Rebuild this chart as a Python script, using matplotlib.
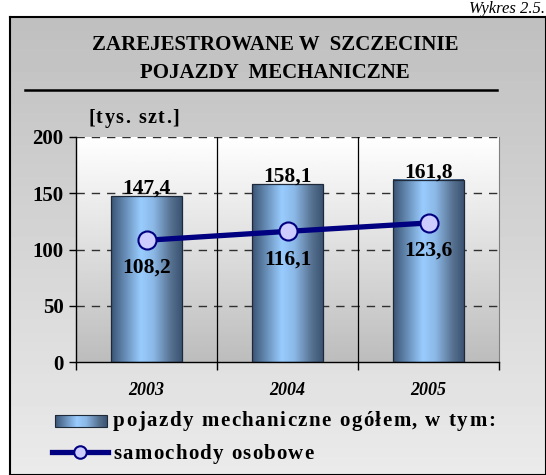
import numpy as np
import matplotlib
matplotlib.use("Agg")
import matplotlib.pyplot as plt
from matplotlib.colors import LinearSegmentedColormap
from matplotlib.patches import Rectangle
from matplotlib.lines import Line2D

years = ['2003', '2004', '2005']
vehicles = [147.4, 158.1, 161.8]
cars = [108.2, 116.1, 123.6]
vehicle_labels = ['147,4', '158,1', '161,8']
car_labels = ['108,2', '116,1', '123,6']
yticks = [0, 50, 100, 150, 200]

plt.rcParams['font.family'] = ['Liberation Serif', 'DejaVu Serif']
plt.rcParams['font.weight'] = 'bold'

W, H = 546, 475
fig = plt.figure(figsize=(W / 100, H / 100), dpi=100)
fig.patch.set_facecolor('white')
renderer = fig.canvas.get_renderer()


def text_width(s, size, **kw):
    t = fig.text(0, 0, s, fontsize=size, **kw)
    w = t.get_window_extent(renderer).width
    t.remove()
    return w


def spaced_text(xp, yp, s, size, gap, ha='left', **kw):
    # letter-spaced text, positions in pixels from the top-left corner
    ref = text_width('I', size, **kw)
    total = text_width(s, size, **kw) + gap * (len(s) - 1)
    start = xp - total / 2 if ha == 'center' else xp
    for i, ch in enumerate(s):
        if ch == ' ':
            continue
        off = text_width(s[:i] + 'I', size, **kw) - ref if i else 0
        fig.text((start + off + i * gap) / W, 1 - yp / H, ch, fontsize=size,
                 ha='left', va='center', **kw)


# outer frame with grey gradient
bg = fig.add_axes([10 / W, 0, 1 - 10 / W, 1 - 17 / H])
bg.imshow(np.linspace(0.75, 0.92, 100).reshape(-1, 1), cmap='gray', vmin=0, vmax=1,
          aspect='auto', extent=[0, 1, 0, 1])
bg.set_xticks([])
bg.set_yticks([])
for s in bg.spines.values():
    s.set_linewidth(1.5)
    s.set_color('black')

fig.text(545 / W, 1 - 13 / H, 'Wykres 2.5.', fontsize=12, style='italic', weight='normal',
         va='baseline', ha='right')

fig.text(275 / W, 1 - 45 / H, 'ZAREJESTROWANE W  SZCZECINIE', fontsize=15,
         ha='center', va='center')
fig.text(275 / W, 1 - 73 / H, 'POJAZDY  MECHANICZNE', fontsize=15,
         ha='center', va='center')
fig.add_artist(Line2D([25 / W, 497 / W], [1 - 90 / H, 1 - 90 / H], color='black', lw=1.8))
spaced_text(88, 118, '[tys. szt.]', 14.5, 1.4)

ax = fig.add_axes([76 / W, 1 - 362 / H, 423 / W, 225 / H])
ax.set_xlim(-0.5, 2.5)
ax.set_ylim(0, 200)
ax.patch.set_alpha(0)

# plot area gradient
ax.imshow(np.linspace(0.74, 1.0, 100).reshape(-1, 1), cmap='gray', vmin=0, vmax=1,
          aspect='auto', extent=[-0.5, 2.5, 0, 200], origin='lower', zorder=0)

for yv in yticks[1:]:
    ax.axhline(yv, color='#303030', lw=1, ls=(0, (6, 5)), zorder=1)
for xv in [0.5, 1.5]:
    ax.axvline(xv, color='black', lw=0.9, zorder=1)

x = np.arange(len(years))
bar_cmap = LinearSegmentedColormap.from_list(
    'barg', [(0, '#3b5474'), (0.15, '#5c7fa6'), (0.42, '#99ccff'),
             (0.6, '#8bb8e6'), (0.85, '#56708f'), (1, '#3b5474')])
grad = np.linspace(0, 1, 200).reshape(1, -1)
bars = ax.bar(x, vehicles, width=0.5, facecolor='none', edgecolor='#1e2a3a', lw=0.9, zorder=3)
for b in bars:
    x0, y0 = b.get_x(), b.get_y()
    ax.imshow(grad, cmap=bar_cmap, aspect='auto',
              extent=[x0, x0 + b.get_width(), y0, y0 + b.get_height()], zorder=2)

ax.set_xlim(-0.5, 2.5)
ax.set_ylim(0, 200)

for xi, v, lab in zip(x, vehicles, vehicle_labels):
    ax.annotate(lab, (xi, v), xytext=(0, -2), textcoords='offset points',
                ha='center', va='bottom', fontsize=15.5, zorder=5)

ax.plot(x, cars, color='#000080', lw=3.8, marker='o', ms=13, mfc='#ccccff',
        mec='#000080', mew=1.5, zorder=4)
for xi, v, lab in zip(x, cars, car_labels):
    ax.annotate(lab, (xi, v), xytext=(0, -20), textcoords='offset points',
                ha='center', va='center', fontsize=15.5, zorder=5)

ax.set_yticks(yticks)
ax.set_yticklabels([str(t) for t in yticks], fontsize=15)
ax.set_xticks([-0.5, 0.5, 1.5, 2.5])
ax.set_xticklabels([])
ax.tick_params(axis='y', length=5, width=1, pad=4)
ax.tick_params(axis='x', length=6, width=1, direction='out')
for xi, yr in zip(x, years):
    ax.text(xi, -0.125, yr, transform=ax.get_xaxis_transform(), ha='center', va='center',
            fontsize=13, style='italic')
ax.spines['top'].set_visible(False)
ax.spines['right'].set_color('#808080')
ax.spines['left'].set_linewidth(1)
ax.spines['bottom'].set_linewidth(1)

# legend
fig.add_artist(Rectangle((55 / W, 1 - 427 / H), 52 / W, 12 / H, transform=fig.transFigure,
                         facecolor='none', edgecolor='#1e2a3a', lw=0.8, zorder=6))
lax = fig.add_axes([55 / W, 1 - 427 / H, 52 / W, 12 / H])
lax.imshow(grad, cmap=bar_cmap, aspect='auto', extent=[0, 1, 0, 1])
lax.axis('off')
spaced_text(113, 421, 'pojazdy mechaniczne ogółem, w tym:', 15, 1.5)
fig.add_artist(Line2D([52 / W, 108 / W], [1 - 452 / H, 1 - 452 / H], color='#000080', lw=3.8))
fig.add_artist(Line2D([80 / W], [1 - 452 / H], marker='o', ms=9, mfc='#ccccff',
                      mec='#000080', mew=1.5))
spaced_text(113, 454, 'samochody osobowe', 15, 1.3)

fig.savefig('out.png', dpi=100)
